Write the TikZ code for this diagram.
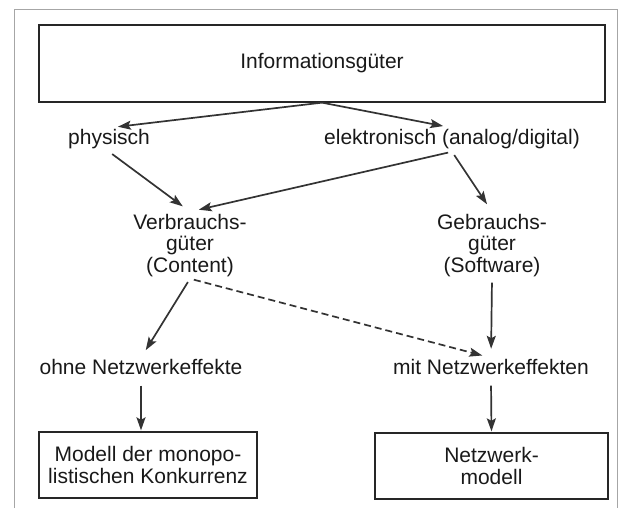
\documentclass[tikz,border=0pt]{standalone}
\usepackage{fontspec}
\setmainfont{Liberation Sans}
\usetikzlibrary{arrows.meta}

\begin{document}
\begin{tikzpicture}[x=1pt,y=1pt,
    every node/.style={font=\fontsize{21}{21.5}\selectfont, text=black!90, inner sep=2pt, align=center},
    einzeilig/.style={text height=15pt, text depth=4.5pt},
    kasten/.style={draw=black!85, line width=1.3pt},
    pfeil/.style={-{Stealth[length=13pt,width=9pt,inset=2.5pt]}, draw=black!80, line width=1.7pt, shorten <=4pt, shorten >=9pt}
]
    \useasboundingbox (0,0) rectangle (620,508);
    \draw[gray!70, line width=1pt] (14.5,0) -- (14.5,498) -- (617,498) -- (617,0);

    % oben
    \node[kasten, minimum width=566pt, minimum height=77pt] (info) at (322,444.5) {Informationsgüter};
    \node[einzeilig] (phys) at (109,368.25) {physisch};
    \node[einzeilig] (elek) at (452,368.25) {elektronisch (analog/digital)};

    % Mitte
    \node (verb) at (190,262.8) {Verbrauchs-\\güter\\(Content)};
    \node (gebr) at (492,262.8) {Gebrauchs-\\güter\\(Software)};

    \node[einzeilig] (ohne) at (141,138.25) {ohne Netzwerkeffekte};
    \node[einzeilig] (mit) at (491,138.25) {mit Netzwerkeffekten};

    % unten
    \node[kasten, minimum width=218pt, minimum height=66pt] (monopol) at (148,43) {Modell der monopo-\\listischen Konkurrenz};
    \node[kasten, minimum width=233pt, minimum height=66pt] (netz) at (491.5,42) {Netzwerk-\\modell};

    \draw[pfeil, shorten <=0pt] (info.south) -- (phys.north);
    \draw[pfeil, shorten <=0pt] (info.south) -- (elek.north);
    \draw[pfeil] (phys.south) -- (verb.north);
    \draw[pfeil] (elek.south) -- (verb.north);
    \draw[pfeil] (elek.south) -- (gebr.north);
    \draw[pfeil] (verb.south) -- (ohne.north);
    \draw[pfeil, dashed, dash pattern=on 7pt off 4pt] (verb.south) -- (mit.north);
    \draw[pfeil] (gebr.south) -- (mit.north);
    \draw[pfeil, shorten >=1pt] (ohne.south) -- (ohne.south |- monopol.north);
    \draw[pfeil, shorten >=1pt] (mit.south) -- (netz.north);
\end{tikzpicture}
\end{document}
